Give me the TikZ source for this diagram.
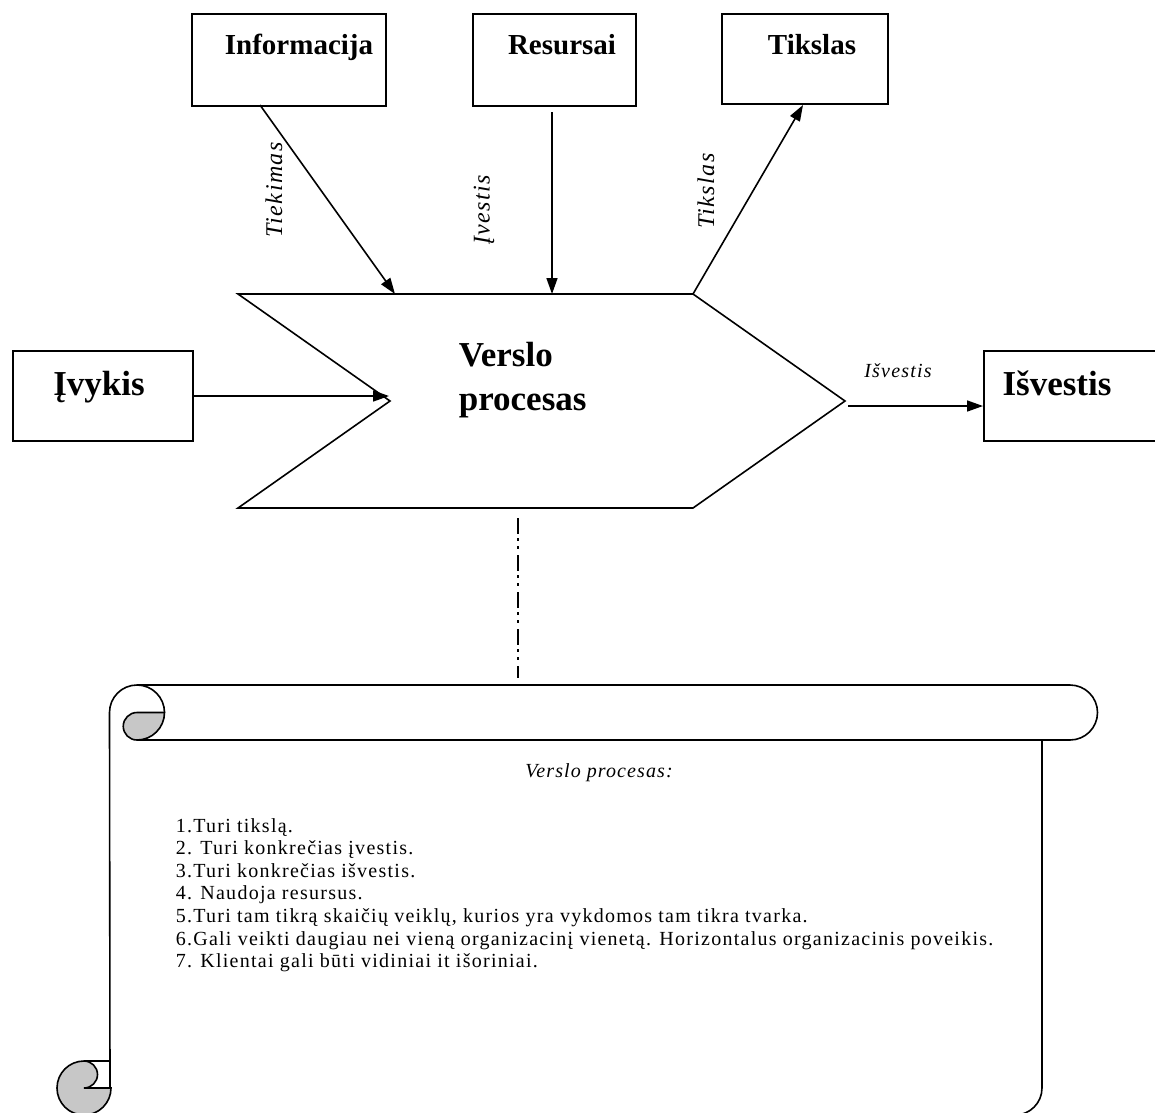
\documentclass[tikz,border=0pt]{standalone}
\usepackage{fontspec}
\setmainfont{Liberation Serif}
\newfontfamily\spacedserif[LetterSpace=6.3]{Liberation Serif}
\newfontfamily\titleserif[LetterSpace=5.5]{Liberation Serif}
\newfontfamily\labelserif[LetterSpace=6]{Liberation Serif}
\usetikzlibrary{arrows.meta}
\begin{document}
\begin{tikzpicture}[x=1pt,y=-1pt,
  line width=1.6pt,
  box/.style={draw, line width=1.6pt, inner sep=0pt, anchor=north west},
  title/.style={font=\bfseries\fontsize{29}{31}\selectfont, anchor=base, inner sep=0pt},
  bigtitle/.style={font=\bfseries\fontsize{35}{37}\selectfont, anchor=base, inner sep=0pt},
  flowlabel/.style={font=\labelserif\itshape\fontsize{24}{26}\selectfont, inner sep=0pt},
  listline/.style={font=\spacedserif\fontsize{20}{22}\selectfont, anchor=base west, inner sep=0pt},
  arr/.style={-{Triangle[length=16pt,width=11pt]}, line width=1.6pt},
  curl/.style={draw, fill=black!22, line width=1.6pt},
]
\useasboundingbox (0,0) rectangle (1155,1112);

% top boxes
\node[box, minimum width=194pt, minimum height=92pt] (info) at (191,13) {};
\node[box, minimum width=163pt, minimum height=92pt] (res) at (472,13) {};
\node[box, minimum width=166pt, minimum height=90pt] (goal) at (721,13) {};
\node[title] (infoT) at (299,54) {Informacija};
\node[title] (resT) at (562,54) {Resursai};
\node[title] (goalT) at (812,54) {Tikslas};

% side boxes
\node[box, minimum width=180pt, minimum height=90pt] (event) at (12,350) {};
\node[box, minimum width=175pt, minimum height=90pt] (out) at (983,350) {};
\node[bigtitle] (eventT) at (99,395) {Įvykis};
\node[bigtitle] (outT) at (1057,395) {Išvestis};

% process chevron
\coordinate (ctl) at (238,294);
\coordinate (ctr) at (693,294);
\coordinate (tip) at (845,401);
\coordinate (cbr) at (693,508);
\coordinate (cbl) at (238,508);
\coordinate (notch) at (390,401);
\draw (ctl) -- (ctr) -- (tip) -- (cbr) -- (cbl) -- (notch) -- cycle;
\node[bigtitle, anchor=base west] (procA) at (458,366) {Verslo};
\node[bigtitle, anchor=base west] (procB) at (458,410) {procesas};

% connection points
\coordinate (infoOut) at (260,105);
\coordinate (inA) at (395,294);
\coordinate (resOut) at (552,112);
\coordinate (inB) at (552,294);
\coordinate (goalIn) at (803,105);
\coordinate (evOut) at (192,396);
\coordinate (notchIn) at (389,396);
\coordinate (tipOut) at (848,406);
\coordinate (outIn) at (983,406);

\draw[arr] (infoOut) -- (inA);
\draw[arr] (resOut) -- (inB);
\draw[arr] (ctr) -- (goalIn);
\draw[arr] (evOut) -- (notchIn);
\draw[arr] (tipOut) -- (outIn);

\node[flowlabel, rotate=90] (lTiek) at (274,190) {Tiekimas};
\node[flowlabel, rotate=90] (lIn) at (484,210) {Įvestis};
\node[flowlabel, rotate=90] (lGoal) at (706,191) {Tikslas};
\node[flowlabel, font=\labelserif\itshape\fontsize{20}{22}\selectfont] (lOut) at (898,371) {Išvestis};

% dash-dot link down to the scroll
\coordinate (linkA) at (518,518);
\coordinate (linkB) at (518,678);
\draw[line width=2pt, dash pattern=on 16pt off 4pt on 3pt off 5pt on 3pt off 6pt] (linkA) -- (linkB);

% scroll: top bar
\draw (137,685) -- (1070,685) arc[start angle=-90, end angle=90, radius=27.5] -- (137,740);
\draw (164.5,712.5) arc[start angle=0, end angle=-180, radius=27.5] -- (110,1088);
\draw[curl] (164.5,712.5) -- (137,712.5)
  arc[start angle=-90, end angle=-270, radius=13.75]
  arc[start angle=90, end angle=0, radius=27.5] -- cycle;
% scroll: body right and bottom
\draw (1042,740) -- (1042,1088) arc[start angle=0, end angle=90, radius=27] -- (84,1115);
% scroll: bottom curl
\draw (84,1061) -- (110,1061);
\draw[curl] (84,1061)
  arc[start angle=-90, end angle=90, radius=13.5] -- (111,1088)
  arc[start angle=0, end angle=270, radius=27] -- cycle;

% scroll text
\node[inner sep=0pt, font=\titleserif\itshape\fontsize{20}{22}\selectfont] (sTitle) at (599,773) {Verslo procesas:};
\node[listline] (s1) at (175,832) {1.Turi tikslą.};
\node[listline] (s2) at (175,854.6) {2. Turi konkrečias įvestis.};
\node[listline] (s3) at (175,877.2) {3.Turi konkrečias išvestis.};
\node[listline] (s4) at (175,899.8) {4. Naudoja resursus.};
\node[listline] (s5) at (175,922.4) {5.Turi tam tikrą skaičių veiklų, kurios yra vykdomos tam tikra tvarka.};
\node[listline] (s6) at (175,945) {6.Gali veikti daugiau nei vieną organizacinį vienetą. Horizontalus organizacinis poveikis.};
\node[listline] (s7) at (175,967.6) {7. Klientai gali būti vidiniai it išoriniai.};
\end{tikzpicture}
\end{document}
